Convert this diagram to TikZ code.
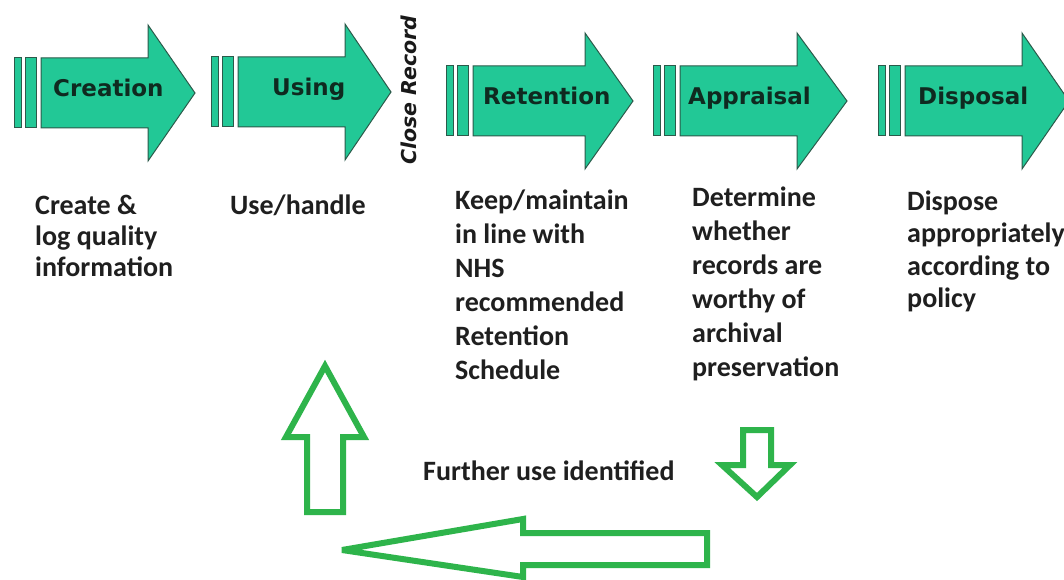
\documentclass[tikz,border=0pt]{standalone}
\usepackage{fontspec}
\setmainfont{Carlito}
\newfontfamily\labelfont{DejaVu Sans}
\definecolor{procfill}{HTML}{22C896}
\definecolor{procedge}{HTML}{2B5A4A}
\definecolor{loopgreen}{HTML}{2EB44B}
\definecolor{labeltext}{HTML}{0F2A20}
\tikzset{
  procshape/.style={fill=procfill, draw=procedge, line width=1pt, line join=miter},
  proclabel/.style={font=\labelfont\bfseries\fontsize{23}{27}\selectfont, text=labeltext, inner sep=0pt, anchor=base west},
  desc/.style={text=black!88, inner sep=0pt, anchor=base west},
  loopshape/.style={draw=loopgreen, line width=6pt, line join=miter, miter limit=4, fill=white},
}
\newcommand\procarrow[7]{%
  \path[procshape] ({#1-27},{#4-35}) rectangle ({#1-20},{#4+35});
  \path[procshape] ({#1-16},{#4-35}) rectangle ({#1-5},{#4+35});
  \path[procshape] (#1,{#4-35}) -- (#2,{#4-35}) -- (#2,{#4-68}) -- (#3,#4)
     -- (#2,{#4+68}) -- (#2,{#4+35}) -- (#1,{#4+35}) -- cycle;
  \node[proclabel] (#5) at (#7,{#4+4}) {#6};
}
\newcommand\desctext[3]{\fontsize{28}{#1}\selectfont\bfseries\parbox[t]{#2}{\raggedright #3}}
\begin{document}
\begin{tikzpicture}[x=1pt,y=-1pt]
  \useasboundingbox (0,0) rectangle (1064,580);
  \clip (0,0) rectangle (1064,580);
  \fill[white] (0,0) rectangle (1064,580);

  % process arrows
  \procarrow{41}{148}{195}{93}{creation}{Creation}{53}
  \procarrow{238}{345}{391}{92}{using}{Using}{272}
  \procarrow{473}{585}{633}{101}{retention}{Retention}{483}
  \procarrow{680}{797}{847}{101}{appraisal}{Appraisal}{688}
  \procarrow{905}{1022}{1069}{101}{disposal}{Disposal}{918}

  \node[font=\labelfont\bfseries\itshape\fontsize{20.5}{24}\selectfont, text=black!90, rotate=90, inner sep=0pt]
    (close) at (409,90) {Close Record};

  % descriptions
  \node[desc] (dcreate) at (35,214) {\desctext{31}{190pt}{Create \&\\log quality\\information}};
  \node[desc] (duse) at (230,214) {\desctext{31}{190pt}{Use/handle}};
  \node[desc] (dkeep) at (455,209) {\desctext{34}{200pt}{Keep/maintain\\in line with\\NHS\\recommended\\Retention\\Schedule}};
  \node[desc] (dappraise) at (692,206) {\desctext{34}{200pt}{Determine\\whether\\records are\\worthy of\\archival\\preservation}};
  \node[desc] (ddispose) at (907,210) {\desctext{32.5}{200pt}{Dispose\\appropriately\\according to\\policy}};

  \node[desc] (further) at (423,480) {\fontsize{28}{34}\selectfont\bfseries Further use identified};

  % loop-back arrows
  \path[loopshape] (307,512) -- (307,437) -- (286,437) -- (325,366) -- (364,437)
     -- (343,437) -- (343,512) -- cycle;
  \path[loopshape] (743,430) -- (771,430) -- (771,465) -- (790,465) -- (757,497)
     -- (722,465) -- (743,465) -- cycle;
  \path[loopshape] (707,533) -- (707,565) -- (523,565) -- (523,577) -- (342,550)
     -- (523,519) -- (523,533) -- cycle;
\end{tikzpicture}
\end{document}
